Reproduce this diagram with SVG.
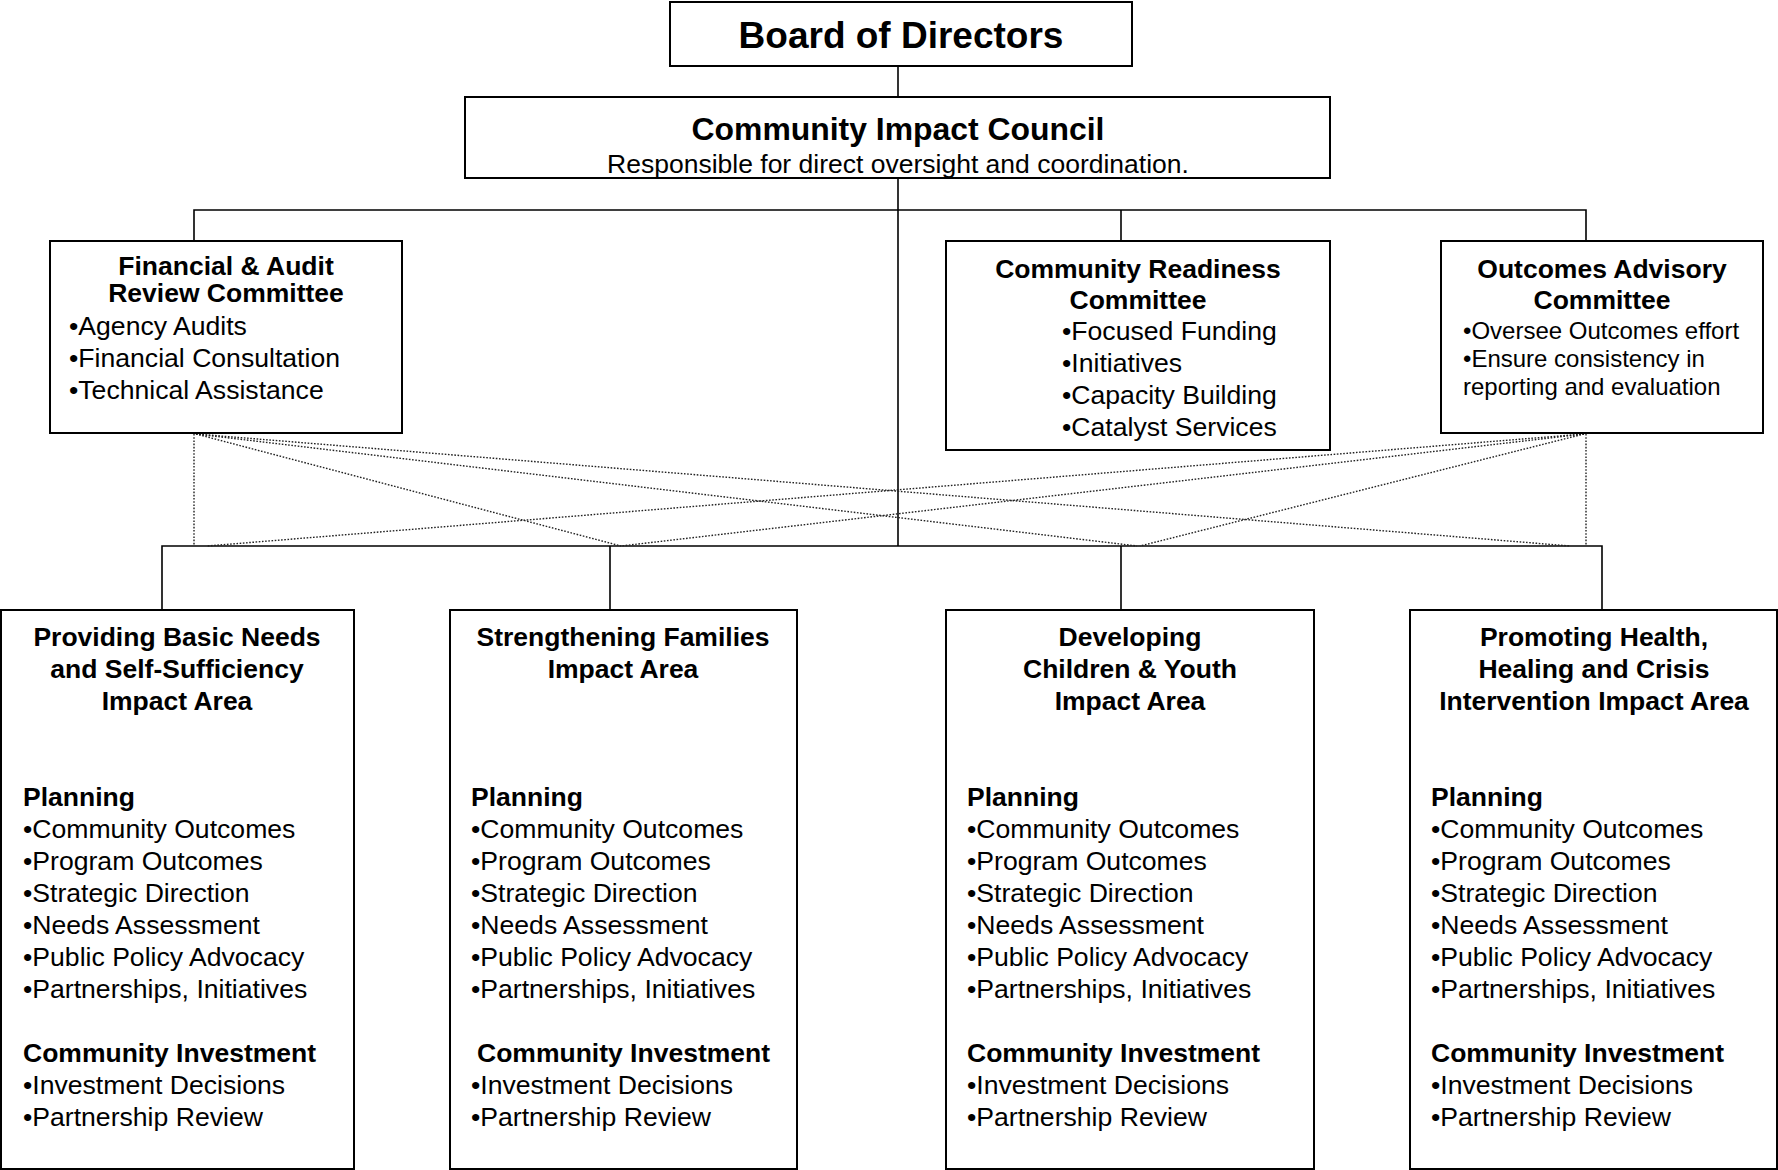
<svg xmlns="http://www.w3.org/2000/svg" width="1778" height="1170" viewBox="0 0 1778 1170">
<style>
text{font-family:"Liberation Sans",Arial,sans-serif;fill:#000}
.box{fill:#fff;stroke:#000;stroke-width:2}
.ln{stroke:#000;stroke-width:1.6;fill:none}
.dot{stroke:#222;stroke-width:1.4;stroke-dasharray:1.6 1.6;fill:none}
.t{font-weight:bold;font-size:26.5px;text-anchor:middle}
.h{font-weight:bold;font-size:26.5px}
.b{font-size:26.6px}
.s{font-size:24px}
</style>
<rect width="1778" height="1170" fill="#fff"/>
<g id="connectors">
<line class="ln" x1="898" y1="66" x2="898" y2="97"/>
<line class="ln" x1="898" y1="178" x2="898" y2="546"/>
<polyline class="ln" points="194,241 194,210 1586,210 1586,241"/>
<line class="ln" x1="1121" y1="210" x2="1121" y2="241"/>
<polyline class="ln" points="162,610 162,546 1602,546 1602,610"/>
<line class="ln" x1="610" y1="546" x2="610" y2="610"/>
<line class="ln" x1="1121" y1="546" x2="1121" y2="610"/>
<line class="dot" x1="194" y1="434" x2="194" y2="546"/>
<line class="dot" x1="1586" y1="434" x2="1586" y2="546"/>
<line class="dot" x1="196" y1="434" x2="621" y2="546"/>
<line class="dot" x1="196" y1="434" x2="1137" y2="546"/>
<line class="dot" x1="196" y1="434" x2="1570" y2="546"/>
<line class="dot" x1="1584" y1="434" x2="1140" y2="546"/>
<line class="dot" x1="1584" y1="434" x2="621" y2="546"/>
<line class="dot" x1="1584" y1="434" x2="207" y2="546"/>
</g>
<g id="board">
<rect class="box" x="670" y="2" width="462" height="64"/>
<text x="901" y="48" style="font-weight:bold;font-size:37px;text-anchor:middle">Board of Directors</text>
</g>
<g id="council">
<rect class="box" x="465" y="97" width="865" height="81"/>
<text x="898" y="140" style="font-weight:bold;font-size:31.9px;text-anchor:middle">Community Impact Council</text>
<text x="898" y="173" style="font-size:26.5px;text-anchor:middle">Responsible for direct oversight and coordination.</text>
</g>
<g id="financial">
<rect class="box" x="50" y="241" width="352" height="192"/>
<text class="t" x="226" y="275">Financial &amp; Audit</text>
<text class="t" x="226" y="302">Review Committee</text>
<text class="b" x="69" y="335">•Agency Audits</text>
<text class="b" x="69" y="367">•Financial Consultation</text>
<text class="b" x="69" y="399">•Technical Assistance</text>
</g>
<g id="readiness">
<rect class="box" x="946" y="241" width="384" height="209"/>
<text class="t" x="1138" y="278">Community Readiness</text>
<text class="t" x="1138" y="309">Committee</text>
<text class="b" x="1062" y="340">•Focused Funding</text>
<text class="b" x="1062" y="372">•Initiatives</text>
<text class="b" x="1062" y="404">•Capacity Building</text>
<text class="b" x="1062" y="436">•Catalyst Services</text>
</g>
<g id="outcomes">
<rect class="box" x="1441" y="241" width="322" height="192"/>
<text class="t" x="1602" y="278">Outcomes Advisory</text>
<text class="t" x="1602" y="309">Committee</text>
<text class="s" x="1463" y="339">•Oversee Outcomes effort</text>
<text class="s" x="1463" y="367">•Ensure consistency in</text>
<text class="s" x="1463" y="395">reporting and evaluation</text>
</g>
<g id="basic-needs">
<rect class="box" x="1" y="610" width="353" height="559"/>
<text class="t" x="177" y="646">Providing Basic Needs</text>
<text class="t" x="177" y="678">and Self-Sufficiency</text>
<text class="t" x="177" y="710">Impact Area</text>
<text class="h" x="23" y="806">Planning</text>
<text class="b" x="23" y="838">•Community Outcomes</text>
<text class="b" x="23" y="870">•Program Outcomes</text>
<text class="b" x="23" y="902">•Strategic Direction</text>
<text class="b" x="23" y="934">•Needs Assessment</text>
<text class="b" x="23" y="966">•Public Policy Advocacy</text>
<text class="b" x="23" y="998">•Partnerships, Initiatives</text>
<text class="h" x="23" y="1062">Community Investment</text>
<text class="b" x="23" y="1094">•Investment Decisions</text>
<text class="b" x="23" y="1126">•Partnership Review</text>
</g>
<g id="families">
<rect class="box" x="450" y="610" width="347" height="559"/>
<text class="t" x="623" y="646">Strengthening Families</text>
<text class="t" x="623" y="678">Impact Area</text>
<text class="h" x="471" y="806">Planning</text>
<text class="b" x="471" y="838">•Community Outcomes</text>
<text class="b" x="471" y="870">•Program Outcomes</text>
<text class="b" x="471" y="902">•Strategic Direction</text>
<text class="b" x="471" y="934">•Needs Assessment</text>
<text class="b" x="471" y="966">•Public Policy Advocacy</text>
<text class="b" x="471" y="998">•Partnerships, Initiatives</text>
<text class="h" x="477" y="1062">Community Investment</text>
<text class="b" x="471" y="1094">•Investment Decisions</text>
<text class="b" x="471" y="1126">•Partnership Review</text>
</g>
<g id="children-youth">
<rect class="box" x="946" y="610" width="368" height="559"/>
<text class="t" x="1130" y="646">Developing</text>
<text class="t" x="1130" y="678">Children &amp; Youth</text>
<text class="t" x="1130" y="710">Impact Area</text>
<text class="h" x="967" y="806">Planning</text>
<text class="b" x="967" y="838">•Community Outcomes</text>
<text class="b" x="967" y="870">•Program Outcomes</text>
<text class="b" x="967" y="902">•Strategic Direction</text>
<text class="b" x="967" y="934">•Needs Assessment</text>
<text class="b" x="967" y="966">•Public Policy Advocacy</text>
<text class="b" x="967" y="998">•Partnerships, Initiatives</text>
<text class="h" x="967" y="1062">Community Investment</text>
<text class="b" x="967" y="1094">•Investment Decisions</text>
<text class="b" x="967" y="1126">•Partnership Review</text>
</g>
<g id="health">
<rect class="box" x="1410" y="610" width="367" height="559"/>
<text class="t" x="1594" y="646">Promoting Health,</text>
<text class="t" x="1594" y="678">Healing and Crisis</text>
<text class="t" x="1594" y="710">Intervention Impact Area</text>
<text class="h" x="1431" y="806">Planning</text>
<text class="b" x="1431" y="838">•Community Outcomes</text>
<text class="b" x="1431" y="870">•Program Outcomes</text>
<text class="b" x="1431" y="902">•Strategic Direction</text>
<text class="b" x="1431" y="934">•Needs Assessment</text>
<text class="b" x="1431" y="966">•Public Policy Advocacy</text>
<text class="b" x="1431" y="998">•Partnerships, Initiatives</text>
<text class="h" x="1431" y="1062">Community Investment</text>
<text class="b" x="1431" y="1094">•Investment Decisions</text>
<text class="b" x="1431" y="1126">•Partnership Review</text>
</g>
</svg>
